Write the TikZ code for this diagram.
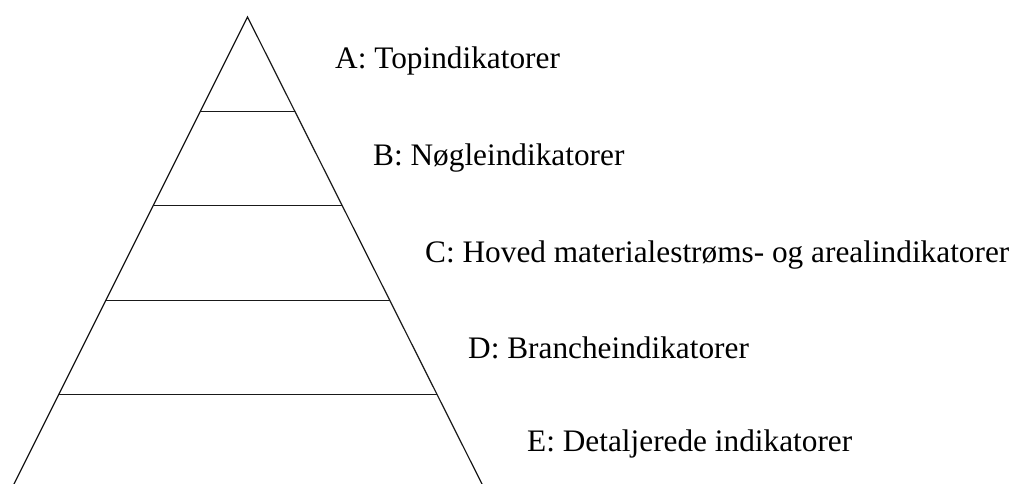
\documentclass[tikz,border=0pt]{standalone}
\usepackage{fontspec}
\setmainfont{Liberation Serif}
\usetikzlibrary{calc}
\begin{document}
\begin{tikzpicture}[x=1pt,y=-1pt,
  edge/.style={line width=1.2pt, black!90},
  level/.style={anchor=base west, inner sep=0pt, font=\fontsize{31.3}{36}\selectfont}]
  \useasboundingbox (0,0) rectangle (1015,484);
  % pyramid sides
  \coordinate (apex) at (247.5,17);
  \coordinate (bl) at (14,484);
  \coordinate (br) at (482,484);
  \draw[edge] (bl) -- (apex) -- (br);
  % level dividers
  \foreach \i/\t in {1/0.2024, 2/0.4041, 3/0.6066, 4/0.8087} {
    \coordinate (l\i) at ($(apex)!\t!(bl)$);
    \coordinate (r\i) at ($(apex)!\t!(br)$);
    \draw[edge] (l\i) -- (r\i);
  }
  % level labels
  \node[level] (A) at (335,69) {A: Topindikatorer};
  \node[level] (B) at (373,165) {B: Nøgleindikatorer};
  \node[level] (C) at (425,262) {C: Hoved materialestrøms- og arealindikatorer};
  \node[level] (D) at (468,358) {D: Brancheindikatorer};
  \node[level] (E) at (527,451) {E: Detaljerede indikatorer};
\end{tikzpicture}
\end{document}
